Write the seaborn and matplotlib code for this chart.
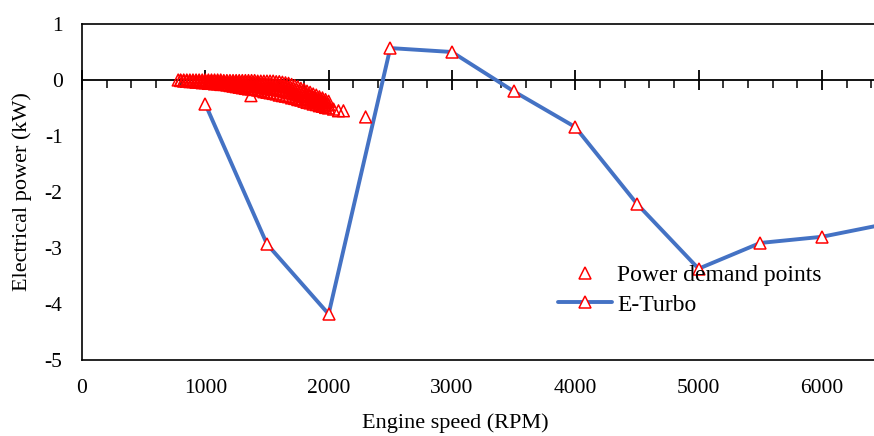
import matplotlib
matplotlib.use("Agg")
import matplotlib.pyplot as plt
from matplotlib.lines import Line2D
import seaborn as sns
import pandas as pd

# E-Turbo curve
eturbo_rpm = [1000, 1500, 2000, 2500, 3000, 3500, 4000, 4500, 5000, 5500, 6000, 6500]
eturbo_kw = [-0.43, -2.93, -4.18, 0.57, 0.50, -0.20, -0.84, -2.21, -3.37, -2.91, -2.80, -2.58]

# Power demand points (read off the dense cloud): speed levels and the
# demand values observed at each level
demand_levels = [
    780, 800, 825, 850, 875, 900, 925, 950, 975, 1000, 1025, 1050, 1075, 1100,
    1125, 1150, 1175, 1200, 1225, 1250, 1275, 1300, 1325, 1350, 1375, 1400,
    1425, 1450, 1475, 1500, 1525, 1550, 1575, 1600, 1625, 1650, 1675, 1700,
    1725, 1750, 1775, 1800, 1825, 1850, 1875, 1900, 1925, 1950, 1975, 2000,
    1370, 2040, 2080, 2120, 2300,
]
demand_values = [
    [0.00],
    [0.00, -0.01],
    [0.00, -0.02],
    [0.00, -0.02],
    [0.00, -0.03],
    [0.00, -0.03],
    [0.00, -0.02, -0.04],
    [0.00, -0.02, -0.04],
    [0.00, -0.03, -0.05],
    [0.00, -0.03, -0.05],
    [0.00, -0.03, -0.06],
    [0.00, -0.03, -0.06],
    [0.00, -0.03, -0.07],
    [0.00, -0.04, -0.07],
    [0.00, -0.04, -0.08],
    [-0.01, -0.04, -0.08],
    [-0.01, -0.05, -0.09],
    [-0.01, -0.05, -0.10],
    [-0.01, -0.04, -0.07, -0.11],
    [-0.01, -0.04, -0.08, -0.12],
    [-0.01, -0.05, -0.09, -0.13],
    [-0.01, -0.05, -0.10, -0.14],
    [-0.01, -0.05, -0.10, -0.15],
    [-0.01, -0.05, -0.11, -0.16],
    [-0.01, -0.06, -0.11, -0.16],
    [-0.01, -0.06, -0.12, -0.17],
    [-0.02, -0.06, -0.12, -0.18],
    [-0.02, -0.07, -0.13, -0.19],
    [-0.02, -0.07, -0.14, -0.21],
    [-0.02, -0.08, -0.15, -0.22],
    [-0.02, -0.08, -0.16, -0.23],
    [-0.02, -0.09, -0.17, -0.24],
    [-0.03, -0.09, -0.17, -0.25],
    [-0.03, -0.10, -0.18, -0.27],
    [-0.04, -0.11, -0.19, -0.28],
    [-0.05, -0.12, -0.20, -0.29],
    [-0.06, -0.13, -0.22, -0.30],
    [-0.08, -0.15, -0.23, -0.32],
    [-0.10, -0.17, -0.25, -0.33],
    [-0.12, -0.19, -0.27, -0.35],
    [-0.15, -0.21, -0.29, -0.36],
    [-0.17, -0.23, -0.30, -0.38],
    [-0.20, -0.26, -0.33, -0.40],
    [-0.22, -0.28, -0.35, -0.41],
    [-0.25, -0.31, -0.37, -0.43],
    [-0.27, -0.33, -0.39, -0.44],
    [-0.30, -0.35, -0.41, -0.46],
    [-0.32, -0.37, -0.43, -0.47],
    [-0.35, -0.40, -0.45, -0.49],
    [-0.38, -0.44, -0.50],
    [-0.28],
    [-0.52],
    [-0.55],
    [-0.55],
    [-0.66],
]

x_ticks = [0, 1000, 2000, 3000, 4000, 5000, 6000]
y_ticks = [-5, -4, -3, -2, -1, 0, 1]
x_label = "Engine speed (RPM)"
y_label = "Electrical power (kW)"
legend_labels = ["Power demand points", "E-Turbo"]

sns.set_style("white")
plt.rcParams["font.family"] = ["Liberation Serif", "DejaVu Serif"]
plt.rcParams["axes.unicode_minus"] = False
plt.rcParams["text.color"] = "black"
plt.rcParams["axes.labelcolor"] = "black"

fig = plt.figure(figsize=(8.74, 4.36), dpi=100)
ax = fig.add_axes([82 / 874, 76 / 436, 792 / 874, 336 / 436])

demand_df = pd.DataFrame(
    [(r, v) for r, vals in zip(demand_levels, demand_values) for v in vals],
    columns=["rpm", "kw"],
)
eturbo_df = pd.DataFrame({"rpm": eturbo_rpm, "kw": eturbo_kw})

MS = 8.5
LW = 2.8
sns.lineplot(data=eturbo_df, x="rpm", y="kw", ax=ax, color="#4472C4", lw=LW,
             marker="^", ms=MS, mfc="white", mec="red", mew=1.1, zorder=3)
sns.scatterplot(data=demand_df, x="rpm", y="kw", ax=ax, marker="^", s=MS ** 2,
                facecolors="none", edgecolors="red", linewidths=1.1, zorder=4)

ax.set_xlim(0, 6423)
ax.set_ylim(-5, 1)
ax.set_xticks(x_ticks)
ax.set_yticks(y_ticks)
ax.tick_params(axis="both", length=0, labelsize=15.5, colors="black")
ax.tick_params(axis="x", pad=14)
ax.tick_params(axis="y", pad=14)

for s in ["left", "top", "bottom"]:
    ax.spines[s].set_visible(True)
    ax.spines[s].set_color("black")
    ax.spines[s].set_linewidth(1.2)
ax.spines["right"].set_visible(False)

# zero axis line with tick marks
sec = ax.secondary_xaxis(5 / 6)
sec.set_xticks(x_ticks)
sec.set_xticks(list(range(0, 6423, 200)), minor=True)
sec.tick_params(which="major", direction="inout", length=14, width=1.3,
                labeltop=False, labelbottom=False, colors="black")
sec.tick_params(which="minor", direction="in", length=6, width=1.1,
                labeltop=False, labelbottom=False, colors="black")
for s in sec.spines.values():
    s.set_linewidth(1.3)
    s.set_color("black")

ax.set_xlabel(x_label, fontsize=16, color="black")
ax.set_ylabel(y_label, fontsize=16, color="black")
ax.xaxis.set_label_coords((455 - 82) / 792, -0.16)
ax.yaxis.set_label_coords(-0.063, 0.5)

handles = [
    Line2D([], [], ls="none", marker="^", ms=MS, mfc="none", mec="red", mew=1.1),
    Line2D([], [], color="#4472C4", lw=LW, marker="^", ms=MS, mfc="white",
           mec="red", mew=1.1),
]
leg = ax.legend(handles, legend_labels, loc="upper left",
                bbox_to_anchor=((558 - 82) / 792, 0.285), frameon=False,
                fontsize=17, borderpad=0, borderaxespad=0, handlelength=2.3,
                handletextpad=0.2, labelspacing=0.35)
for t in leg.get_texts():
    t.set_color("black")

fig.savefig("out.png", dpi=100)
